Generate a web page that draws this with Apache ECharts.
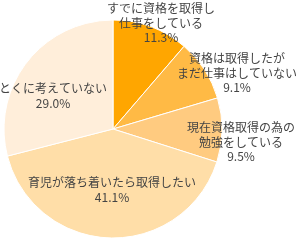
<!DOCTYPE html>
<html><head><meta charset="utf-8">
<script src="https://cdn.jsdelivr.net/npm/echarts@6/dist/echarts.min.js"></script>
<style>html,body{margin:0;padding:0;background:#fff}#c{width:297px;height:240px}</style>
</head><body><div id="c"></div>
<script>
var categories = ['すでに資格を取得し\n仕事をしている','資格は取得したが\nまだ仕事はしていない','現在資格取得の為の\n勉強をしている','育児が落ち着いたら取得したい','とくに考えていない'];
var values = [11.3, 9.1, 9.5, 41.1, 29.0];
var colors = ['#FFA600','#FFBA45','#FFCB80','#FFDEA8','#FFEEDA'];
var labelPos = [[161,23],[237,73],[241,142],[112,190],[53,96]];
var chart = echarts.init(document.getElementById('c'), null, {renderer:'canvas'});
chart.setOption({
  animation:false,
  series:[{
    type:'pie',
    center:[113,129],
    radius:[0,109],
    startAngle:90,
    clockwise:true,
    itemStyle:{borderColor:'#fff',borderWidth:1},
    label:{show:true,position:'inside',color:'#444',fontSize:12,lineHeight:14.5,
      fontFamily:'"Noto Sans CJK JP", sans-serif',align:'center',verticalAlign:'middle',
      formatter:function(p){return p.name+'\n'+p.value.toFixed(1)+'%';}},
    labelLayout:function(p){var q=labelPos[p.dataIndex];return {x:q[0],y:q[1],align:'center',verticalAlign:'middle'};},
    emphasis:{disabled:true},
    data:categories.map(function(n,i){return {name:n,value:values[i],itemStyle:{color:colors[i]}};})
  }]
});
</script></body></html>
